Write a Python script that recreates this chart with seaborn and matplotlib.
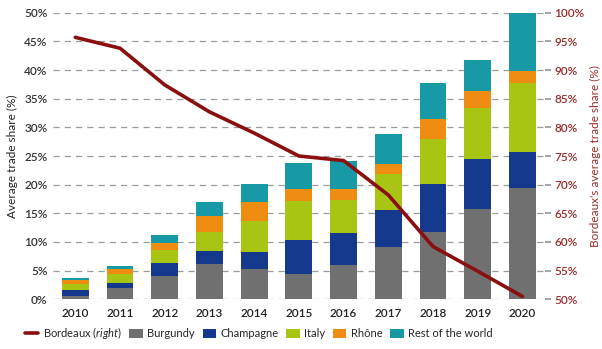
import numpy as np
import pandas as pd
import matplotlib
matplotlib.use("Agg")
import matplotlib.pyplot as plt
import seaborn as sns
from matplotlib.patches import Patch
from matplotlib.lines import Line2D

years = ["2010", "2011", "2012", "2013", "2014", "2015", "2016", "2017", "2018", "2019", "2020"]
burgundy = [0.6, 1.9, 4.1, 6.2, 5.3, 4.4, 5.9, 9.2, 11.7, 15.7, 19.4]
champagne = [1.0, 1.0, 2.2, 2.3, 3.0, 5.9, 5.6, 6.3, 8.4, 8.8, 6.3]
italy = [1.1, 1.6, 2.3, 3.2, 5.4, 6.9, 5.8, 6.3, 7.9, 8.9, 12.1]
rhone = [0.6, 0.8, 1.3, 2.8, 3.3, 2.0, 1.9, 1.8, 3.4, 3.0, 2.1]
rest_world = [0.5, 0.5, 1.3, 2.4, 3.1, 4.6, 5.0, 5.2, 6.4, 5.4, 10.2]
bordeaux = [95.7, 93.8, 87.4, 82.7, 79.0, 75.0, 74.2, 68.2, 59.2, 54.9, 50.5]

series = [
    ("Burgundy", burgundy, "#707070"),
    ("Champagne", champagne, "#14398c"),
    ("Italy", italy, "#a9c514"),
    ("Rhône", rhone, "#ef8c12"),
    ("Rest of the world", rest_world, "#1899a6"),
]
line_color = "#8a1010"
label_red = "#9b2b2b"

sns.set_theme(style="white")
plt.rcParams["font.family"] = ["Lato", "DejaVu Sans"]
plt.rcParams["mathtext.fontset"] = "custom"
plt.rcParams["mathtext.it"] = "Lato:italic"
plt.rcParams["mathtext.rm"] = "Lato"

fig = plt.figure(figsize=(6.02, 3.49), dpi=100)
ax = fig.add_axes([0.088, 0.1424, 0.817, 0.8212])

bottom = np.zeros(len(years))
for name, vals, col in series:
    df = pd.DataFrame({"year": years, "val": vals})
    sns.barplot(data=df, x="year", y="val", color=col, bottom=bottom,
                width=0.6, ax=ax, saturation=1, linewidth=0, zorder=3)
    bottom = bottom + np.array(vals)

ax.set_xlim(-0.5, len(years) - 0.5)
ax.set_ylim(0, 50)
ax.set_yticks(np.arange(0, 51, 5))
ax.set_yticklabels([f"{v}%" for v in range(0, 51, 5)], fontsize=8.5, color="#333333",
                   fontweight="semibold")
for t in ax.get_xticklabels():
    t.set_fontweight("semibold")
ax.tick_params(axis="x", labelsize=8.5, colors="#222222", length=0, pad=6)
ax.tick_params(axis="y", length=0, pad=4)
ax.set_xlabel("")
ax.set_ylabel("Average trade share (%)", fontsize=8.5, color="#222222")
for s in ax.spines.values():
    s.set_visible(False)
ax.yaxis.grid(True, linestyle=(0, (5, 4)), color="#9a9a9a", linewidth=0.9, zorder=0)
ax.set_axisbelow(True)

ax2 = ax.twinx()
ldf = pd.DataFrame({"pos": np.arange(len(years)), "val": bordeaux})
sns.lineplot(data=ldf, x="pos", y="val", color=line_color, linewidth=2.6, ax=ax2, zorder=5)
ax2.set_ylim(50, 100)
ax2.set_xlim(-0.5, len(years) - 0.5)
ax2.set_yticks(np.arange(50, 101, 5))
ax2.set_yticklabels([f"{v}%" for v in range(50, 101, 5)], fontsize=8.5, color=label_red,
                    fontweight="semibold")
ax2.tick_params(axis="y", length=4, color="#9a9a9a", pad=3)
ax2.set_xlabel("")
ax2.set_ylabel("Bordeaux's average trade share (%)", fontsize=8.5, color=label_red)
for s in ax2.spines.values():
    s.set_visible(False)

handles = [Line2D([0], [0], color=line_color, linewidth=2.6)]
labels = [r"Bordeaux $\mathit{(right)}$"]
for name, vals, col in series:
    handles.append(Patch(facecolor=col, edgecolor="none"))
    labels.append(name)
fig.legend(handles, labels, loc="center", bbox_to_anchor=(0.43, 0.045), ncol=6,
           frameon=False, fontsize=8, handlelength=1.2, handleheight=0.8,
           columnspacing=0.7, handletextpad=0.4, borderaxespad=0, borderpad=0)

fig.savefig("out.png", dpi=100)
